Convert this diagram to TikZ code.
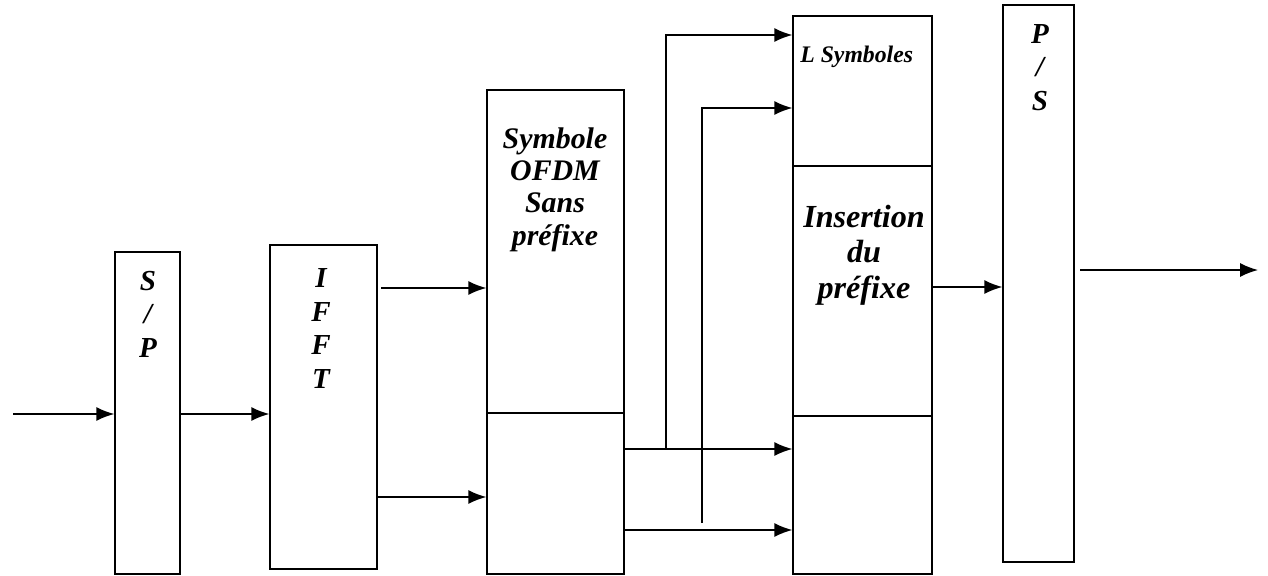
\documentclass[tikz,border=0pt]{standalone}
\usepackage{fontspec}
\setmainfont{Liberation Serif}
\usetikzlibrary{arrows.meta}
\begin{document}
\begin{tikzpicture}[x=0.02cm,y=-0.02cm,
  blk/.style={draw,line width=0.8pt,inner sep=0pt,rectangle},
  lbl/.style={font=\bfseries\itshape\fontsize{16.5}{19}\selectfont,align=center,inner sep=0pt,anchor=base},
  conn/.style={line width=0.8pt,-{Latex[length=3.6mm,width=2.8mm]}},
  wire/.style={line width=0.8pt}]
\useasboundingbox (0,0) rectangle (1268,575);
% blocks
\node[blk,minimum width=1.3cm,minimum height=6.44cm] (sp) at (147.5,413) {};
\node[blk,minimum width=2.14cm,minimum height=6.48cm] (ifft) at (323.5,407) {};
\node[blk,minimum width=2.74cm,minimum height=9.68cm] (sym) at (555.5,332) {};
\node[blk,minimum width=2.78cm,minimum height=11.16cm] (ins) at (862.5,295) {};
\node[blk,minimum width=1.42cm,minimum height=11.14cm] (ps) at (1038.5,283.5) {};
% dividers
\coordinate (symdiv) at (555,413);
\coordinate (insdiv1) at (862,166);
\coordinate (insdiv2) at (862,416);
\draw[wire] (sym.west |- symdiv) -- (sym.east |- symdiv);
\draw[wire] (ins.west |- insdiv1) -- (ins.east |- insdiv1);
\draw[wire] (ins.west |- insdiv2) -- (ins.east |- insdiv2);
% labels (anchor = baseline of the last line)
\node[lbl] (tsp) at (148,357) {S\\/\\P};
\node[lbl] (tifft) at (321,388) {I\\F\\F\\T};
\node[lbl,font=\bfseries\itshape\fontsize{17}{18.4}\selectfont] (tsym) at (555,245) {Symbole\\OFDM\\Sans\\préfixe};
\node[lbl,font=\bfseries\itshape\fontsize{18.3}{20.2}\selectfont] (tins) at (864,298) {Insertion\\du\\préfixe};
\node[lbl] (tps) at (1040,110) {P\\/\\S};
\node[font=\bfseries\itshape\fontsize{13.5}{16}\selectfont,inner sep=0pt,anchor=base west] (tL) at (800,62) {L Symboles};
% connectors
\coordinate (in) at (13,414);
\draw[conn] (in) -- (in -| sp.west);
\draw[conn] (sp.east |- in) -- (in -| ifft.west);
\coordinate (a1) at (381,288);
\draw[conn] (a1) -- (a1 -| sym.west);
\coordinate (a2) at (377,497);
\draw[conn] (ifft.east |- a2) -- (a2 -| sym.west);
\coordinate (c1) at (624,449);
\coordinate (c2) at (624,530);
\draw[conn] (sym.east |- c1) -- (c1 -| ins.west);
\draw[conn] (sym.east |- c2) -- (c2 -| ins.west);
\coordinate (b1) at (666,449);
\coordinate (b1t) at (666,35);
\draw[conn] (b1) -- (b1t) -- (b1t -| ins.west);
\coordinate (b2) at (702,523);
\coordinate (b2t) at (702,108);
\draw[conn] (b2) -- (b2t) -- (b2t -| ins.west);
\coordinate (d1) at (932,287);
\draw[conn] (ins.east |- d1) -- (d1 -| ps.west);
\coordinate (o1) at (1080,270);
\coordinate (o2) at (1258,270);
\draw[conn] (o1) -- (o2);
\end{tikzpicture}
\end{document}
